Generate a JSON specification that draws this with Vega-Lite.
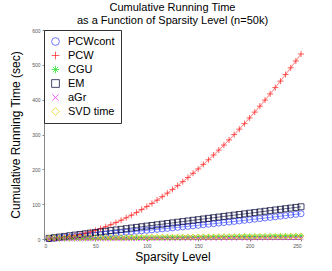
{
  "$schema": "https://vega.github.io/schema/vega-lite/v6.json",
  "width": 257,
  "height": 209,
  "autosize": {"type": "none"},
  "padding": {"left": 44, "top": 30, "right": 31, "bottom": 32},
  "background": "white",
  "config": {
    "font": "Liberation Sans",
    "view": {"stroke": null},
    "axis": {"grid": false, "domainColor": "#888888", "tickColor": "#888888", "tickSize": 2, "labelFontSize": 5, "labelColor": "#555555", "titleFontSize": 12, "titleFontWeight": "normal", "titleColor": "black", "labelPadding": 2},
    "legend": {"orient": "top-left", "offset": 0, "padding": 6, "labelFontSize": 11, "labelColor": "black", "labelOffset": 7, "rowPadding": 2, "symbolSize": 60, "symbolStrokeWidth": 0.8, "strokeColor": "#333333", "fillColor": "white", "cornerRadius": 0}
  },
  "title": {
    "text": ["Cumulative Running Time", "as a Function of Sparsity Level (n=50k)"],
    "fontSize": 11,
    "fontWeight": "normal",
    "font": "Liberation Sans",
    "lineHeight": 13,
    "anchor": "middle",
    "offset": 2,
    "color": "black"
  },
  "data": {
    "values": [
      {"x":5,"PCWcont":1.11,"PCW":0.31,"CGU":0.18,"EM":1.85,"aGr":0.08,"SVD time":3.1},
      {"x":10,"PCWcont":2.23,"PCW":1.17,"CGU":0.35,"EM":3.7,"aGr":0.15,"SVD time":3.2},
      {"x":15,"PCWcont":3.36,"PCW":2.53,"CGU":0.53,"EM":5.55,"aGr":0.23,"SVD time":3.3},
      {"x":20,"PCWcont":4.51,"PCW":4.38,"CGU":0.7,"EM":7.4,"aGr":0.3,"SVD time":3.4},
      {"x":25,"PCWcont":5.68,"PCW":6.69,"CGU":0.88,"EM":9.25,"aGr":0.38,"SVD time":3.5},
      {"x":30,"PCWcont":6.85,"PCW":9.45,"CGU":1.05,"EM":11.1,"aGr":0.45,"SVD time":3.6},
      {"x":35,"PCWcont":8.04,"PCW":12.67,"CGU":1.23,"EM":12.95,"aGr":0.53,"SVD time":3.7},
      {"x":40,"PCWcont":9.25,"PCW":16.33,"CGU":1.4,"EM":14.8,"aGr":0.6,"SVD time":3.8},
      {"x":45,"PCWcont":10.47,"PCW":20.43,"CGU":1.58,"EM":16.65,"aGr":0.68,"SVD time":3.9},
      {"x":50,"PCWcont":11.7,"PCW":24.95,"CGU":1.75,"EM":18.5,"aGr":0.75,"SVD time":4.0},
      {"x":55,"PCWcont":12.95,"PCW":29.91,"CGU":1.93,"EM":20.35,"aGr":0.83,"SVD time":4.1},
      {"x":60,"PCWcont":14.21,"PCW":35.28,"CGU":2.1,"EM":22.2,"aGr":0.9,"SVD time":4.2},
      {"x":65,"PCWcont":15.48,"PCW":41.08,"CGU":2.28,"EM":24.05,"aGr":0.98,"SVD time":4.3},
      {"x":70,"PCWcont":16.77,"PCW":47.29,"CGU":2.45,"EM":25.9,"aGr":1.05,"SVD time":4.4},
      {"x":75,"PCWcont":18.08,"PCW":53.91,"CGU":2.63,"EM":27.75,"aGr":1.13,"SVD time":4.5},
      {"x":80,"PCWcont":19.39,"PCW":60.95,"CGU":2.8,"EM":29.6,"aGr":1.2,"SVD time":4.6},
      {"x":85,"PCWcont":20.72,"PCW":68.39,"CGU":2.98,"EM":31.45,"aGr":1.28,"SVD time":4.7},
      {"x":90,"PCWcont":22.07,"PCW":76.23,"CGU":3.15,"EM":33.3,"aGr":1.35,"SVD time":4.8},
      {"x":95,"PCWcont":23.43,"PCW":84.48,"CGU":3.33,"EM":35.15,"aGr":1.43,"SVD time":4.9},
      {"x":100,"PCWcont":24.8,"PCW":93.13,"CGU":3.5,"EM":37.0,"aGr":1.5,"SVD time":5.0},
      {"x":105,"PCWcont":26.19,"PCW":102.17,"CGU":3.68,"EM":38.85,"aGr":1.58,"SVD time":5.1},
      {"x":110,"PCWcont":27.59,"PCW":111.6,"CGU":3.85,"EM":40.7,"aGr":1.65,"SVD time":5.2},
      {"x":115,"PCWcont":29.0,"PCW":121.5,"CGU":4.03,"EM":42.55,"aGr":1.73,"SVD time":5.3},
      {"x":120,"PCWcont":30.43,"PCW":131.7,"CGU":4.2,"EM":44.4,"aGr":1.8,"SVD time":5.4},
      {"x":125,"PCWcont":31.88,"PCW":142.3,"CGU":4.38,"EM":46.25,"aGr":1.88,"SVD time":5.5},
      {"x":130,"PCWcont":33.33,"PCW":153.3,"CGU":4.55,"EM":48.1,"aGr":1.95,"SVD time":5.6},
      {"x":135,"PCWcont":34.8,"PCW":164.7,"CGU":4.73,"EM":49.95,"aGr":2.03,"SVD time":5.7},
      {"x":140,"PCWcont":36.29,"PCW":176.5,"CGU":4.9,"EM":51.8,"aGr":2.1,"SVD time":5.8},
      {"x":145,"PCWcont":37.79,"PCW":188.7,"CGU":5.08,"EM":53.65,"aGr":2.18,"SVD time":5.9},
      {"x":150,"PCWcont":39.3,"PCW":201.2,"CGU":5.25,"EM":55.5,"aGr":2.25,"SVD time":6.0},
      {"x":155,"PCWcont":40.83,"PCW":214.2,"CGU":5.43,"EM":57.35,"aGr":2.33,"SVD time":6.1},
      {"x":160,"PCWcont":42.37,"PCW":227.5,"CGU":5.6,"EM":59.2,"aGr":2.4,"SVD time":6.2},
      {"x":165,"PCWcont":43.92,"PCW":241.2,"CGU":5.78,"EM":61.05,"aGr":2.48,"SVD time":6.3},
      {"x":170,"PCWcont":45.49,"PCW":255.2,"CGU":5.95,"EM":62.9,"aGr":2.55,"SVD time":6.4},
      {"x":175,"PCWcont":47.08,"PCW":269.7,"CGU":6.13,"EM":64.75,"aGr":2.63,"SVD time":6.5},
      {"x":180,"PCWcont":48.67,"PCW":284.5,"CGU":6.3,"EM":66.6,"aGr":2.7,"SVD time":6.6},
      {"x":185,"PCWcont":50.28,"PCW":299.7,"CGU":6.48,"EM":68.45,"aGr":2.78,"SVD time":6.7},
      {"x":190,"PCWcont":51.91,"PCW":315.3,"CGU":6.65,"EM":70.3,"aGr":2.85,"SVD time":6.8},
      {"x":195,"PCWcont":53.55,"PCW":331.2,"CGU":6.83,"EM":72.15,"aGr":2.93,"SVD time":6.9},
      {"x":200,"PCWcont":55.2,"PCW":347.6,"CGU":7.0,"EM":74.0,"aGr":3.0,"SVD time":7.0},
      {"x":205,"PCWcont":56.87,"PCW":364.2,"CGU":7.18,"EM":75.85,"aGr":3.08,"SVD time":7.1},
      {"x":210,"PCWcont":58.55,"PCW":381.3,"CGU":7.35,"EM":77.7,"aGr":3.15,"SVD time":7.2},
      {"x":215,"PCWcont":60.24,"PCW":398.8,"CGU":7.53,"EM":79.55,"aGr":3.23,"SVD time":7.3},
      {"x":220,"PCWcont":61.95,"PCW":416.6,"CGU":7.7,"EM":81.4,"aGr":3.3,"SVD time":7.4},
      {"x":225,"PCWcont":63.68,"PCW":434.7,"CGU":7.88,"EM":83.25,"aGr":3.38,"SVD time":7.5},
      {"x":230,"PCWcont":65.41,"PCW":453.3,"CGU":8.05,"EM":85.1,"aGr":3.45,"SVD time":7.6},
      {"x":235,"PCWcont":67.16,"PCW":472.2,"CGU":8.23,"EM":86.95,"aGr":3.53,"SVD time":7.7},
      {"x":240,"PCWcont":68.93,"PCW":491.5,"CGU":8.4,"EM":88.8,"aGr":3.6,"SVD time":7.8},
      {"x":245,"PCWcont":70.71,"PCW":511.1,"CGU":8.58,"EM":90.65,"aGr":3.68,"SVD time":7.9},
      {"x":250,"PCWcont":72.5,"PCW":531.1,"CGU":8.75,"EM":92.5,"aGr":3.75,"SVD time":8.0}
    ]
  },
  "transform": [
    {"fold": ["PCWcont", "PCW", "CGU", "EM", "aGr", "SVD time"], "as": ["method", "t"]}
  ],
  "encoding": {
    "x": {"field": "x", "type": "quantitative", "scale": {"domain": [0, 250], "nice": false}, "axis": {"values": [0, 50, 100, 150, 200, 250], "title": "Sparsity Level", "titlePadding": 3}},
    "y": {"field": "t", "type": "quantitative", "scale": {"domain": [0, 600], "nice": false}, "axis": {"values": [0, 100, 200, 300, 400, 500, 600], "title": "Cumulative Running Time (sec)", "titlePadding": 9}},
    "color": {"field": "method", "type": "nominal", "title": null, "scale": {"domain": ["PCWcont", "PCW", "CGU", "EM", "aGr", "SVD time"], "range": ["#3344ff", "#ff2020", "#22dd22", "#000033", "#ff22ff", "#e8cc00"]}}
  },
  "layer": [
    {
      "mark": {"type": "line", "strokeWidth": 0.6}
    },
    {
      "mark": {"type": "point", "filled": false, "strokeWidth": 0.8, "size": 36, "opacity": 0.9},
      "encoding": {
        "shape": {"field": "method", "type": "nominal", "title": null, "scale": {"domain": ["PCWcont", "PCW", "CGU", "EM", "aGr", "SVD time"], "range": ["circle", "M-1,0H1M0,-1V1", "M-1,0H1M0,-1V1M-0.7,-0.7L0.7,0.7M-0.7,0.7L0.7,-0.7", "square", "M-0.8,-0.8L0.8,0.8M-0.8,0.8L0.8,-0.8", "diamond"]}}
      }
    }
  ]
}
